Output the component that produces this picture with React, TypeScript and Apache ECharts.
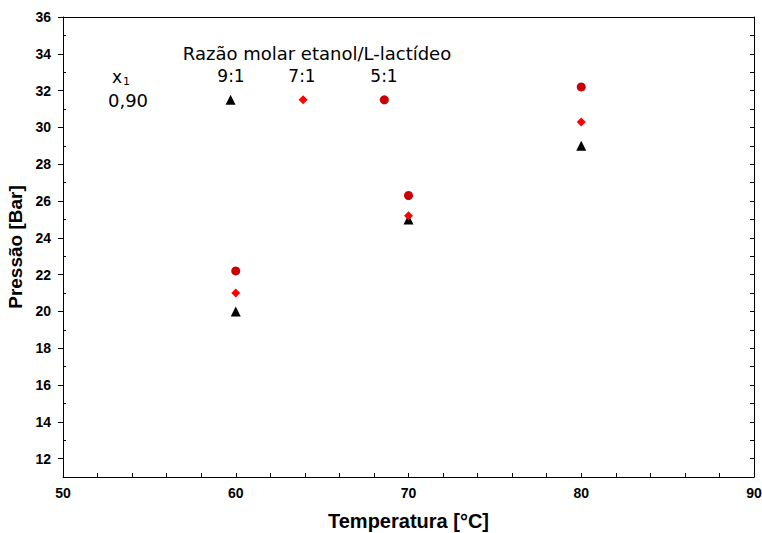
import React, { useEffect, useRef } from "react";
import * as echarts from "echarts";

// Data
const temperatures = [60, 70, 80];
const pressure91 = [20.0, 25.0, 29.0]; // etanol/L-lactídeo 9:1 (black triangle)
const pressure71 = [21.0, 25.2, 30.3]; // 7:1 (red diamond)
const pressure51 = [22.2, 26.3, 32.2]; // 5:1 (dark red circle)

// In-plot legend
const legendTitle = "Razão molar etanol/L-lactídeo";
const legendRatios = ["9:1", "7:1", "5:1"];
const legendMarkerX = [59.7, 63.9, 68.6];
const legendMarkerY = 31.5;
const legendFraction = "0,90";

// Axis ticks
const xTicks = [50, 60, 70, 80, 90];
const yTickLabels = [12, 14, 16, 18, 20, 22, 24, 26, 28, 30, 32, 34, 36];
const yMinorTicks = [13, 15, 17, 19, 21, 23, 25, 27, 29, 31, 33, 35];
const yAllTicks = [12, 13, 14, 15, 16, 17, 18, 19, 20, 21, 22, 23, 24, 25, 26, 27, 28, 29, 30, 31, 32, 33, 34, 35];

const pair = (xs: number[], ys: number[]) => xs.map((x, i) => [x, ys[i]]);

export default function App() {
  const ref = useRef<HTMLDivElement>(null);
  useEffect(() => {
    if (!ref.current) return;
    const chart = echarts.init(ref.current, null, { renderer: "svg" });
    const sans = "'Liberation Sans', Arial, sans-serif";
    const dejavu = "'DejaVu Sans', sans-serif";
    const axisLine = { show: true, lineStyle: { color: "#000", width: 1 } };
    const yBase = { type: "value", min: 11, max: 36, splitLine: { show: false } };
    chart.setOption({
      animation: false,
      backgroundColor: "#fff",
      grid: { left: 63, right: 8, top: 17, bottom: 56, containLabel: false, outerBoundsMode: "none" },
      xAxis: [
        {
          type: "value",
          min: xTicks[0],
          max: xTicks[xTicks.length - 1],
          interval: 10,
          position: "bottom",
          axisLine,
          axisTick: { show: true, inside: true, length: 4, lineStyle: { color: "#000" } },
          minorTick: { show: true, splitNumber: 5, length: 4, lineStyle: { color: "#000" } },
          splitLine: { show: false },
          axisLabel: { color: "#000", fontFamily: sans, fontWeight: "bold", fontSize: 14, margin: 9 },
          name: "Temperatura [°C]",
          nameLocation: "middle",
          nameGap: 34,
          nameTextStyle: { color: "#000", fontFamily: sans, fontWeight: "bold", fontSize: 20 },
        },
        {
          type: "value",
          min: xTicks[0],
          max: xTicks[xTicks.length - 1],
          position: "top",
          axisLine,
          axisTick: { show: false },
          axisLabel: { show: false },
          splitLine: { show: false },
        },
      ],
      yAxis: [
        {
          ...yBase,
          position: "left",
          axisLine,
          axisTick: { show: true, inside: false, length: 5, customValues: yTickLabels, lineStyle: { color: "#000" } },
          axisLabel: {
            color: "#000",
            fontFamily: sans,
            fontWeight: "bold",
            fontSize: 14,
            margin: 12,
            customValues: yTickLabels,
          },
          name: "Pressão [Bar]",
          nameLocation: "middle",
          nameGap: 36,
          nameTextStyle: { color: "#000", fontFamily: sans, fontWeight: "bold", fontSize: 19 },
        },
        {
          ...yBase,
          position: "right",
          axisLine,
          axisTick: { show: true, inside: true, length: 4, customValues: yAllTicks, lineStyle: { color: "#000" } },
          axisLabel: { show: false },
        },
        {
          ...yBase,
          position: "left",
          axisLine: { show: false },
          axisTick: { show: true, inside: true, length: 3, customValues: yMinorTicks, lineStyle: { color: "#000" } },
          axisLabel: { show: false },
        },
      ],
      series: [
        {
          name: "9:1",
          type: "scatter",
          symbol: "triangle",
          symbolSize: 10,
          itemStyle: { color: "#000000", opacity: 1 },
          data: [...pair(temperatures, pressure91), [legendMarkerX[0], legendMarkerY]],
        },
        {
          name: "7:1",
          type: "scatter",
          symbol: "diamond",
          symbolSize: 9,
          itemStyle: { color: "#ff0000", opacity: 1 },
          data: [...pair(temperatures, pressure71), [legendMarkerX[1], legendMarkerY]],
        },
        {
          name: "5:1",
          type: "scatter",
          symbol: "circle",
          symbolSize: 9,
          itemStyle: { color: "#cc0000", opacity: 1 },
          data: [...pair(temperatures, pressure51), [legendMarkerX[2], legendMarkerY]],
        },
      ],
      graphic: [
        {
          type: "text",
          x: 317,
          y: 53,
          style: { text: legendTitle, fontFamily: dejavu, fontSize: 18, fill: "#000", align: "center", verticalAlign: "middle" },
        },
        ...legendRatios.map((t, i) => ({
          type: "text",
          x: [231, 302, 384][i],
          y: 76,
          style: { text: t, fontFamily: dejavu, fontSize: 17, fill: "#000", align: "center", verticalAlign: "middle" },
        })),
        {
          type: "text",
          x: 112,
          y: 77,
          style: {
            text: "{x|x}{s|1}",
            fill: "#000",
            align: "left",
            verticalAlign: "middle",
            rich: {
              x: { fontFamily: dejavu, fontSize: 17, fill: "#000" },
              s: { fontFamily: dejavu, fontSize: 11, fill: "#000", padding: [8, 0, 0, 1] },
            },
          },
        },
        {
          type: "text",
          x: 128,
          y: 100,
          style: { text: legendFraction, fontFamily: dejavu, fontSize: 18, fill: "#000", align: "center", verticalAlign: "middle" },
        },
      ],
    });
    return () => chart.dispose();
  }, []);
  return (
    <div
      ref={ref}
      style={{ position: "absolute", left: 0, top: 0, width: 762, height: 533, background: "#fff" }}
    />
  );
}
